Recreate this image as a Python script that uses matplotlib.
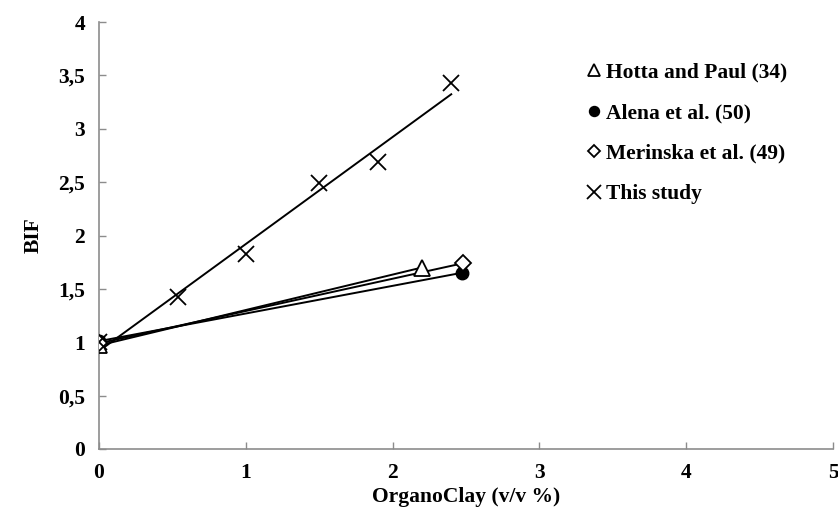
import numpy as np
import matplotlib
matplotlib.use("Agg")
import matplotlib.pyplot as plt
from matplotlib.ticker import FuncFormatter

plt.rcParams['font.family'] = ['Liberation Serif', 'DejaVu Serif']
plt.rcParams['font.weight'] = 'bold'

hotta_x = [0.0, 2.20]
hotta_y = [0.97, 1.70]
alena_x = [0.0, 2.47]
alena_y = [1.01, 1.65]
merinska_x = [0.0, 2.48]
merinska_y = [0.99, 1.74]
study_x = [0.0, 0.54, 1.0, 1.50, 1.90, 2.40]
study_y = [1.00, 1.42, 1.83, 2.49, 2.69, 3.43]

labels = ["Hotta and Paul (34)", "Alena et al. (50)", "Merinska et al. (49)", "This study"]

fig = plt.figure(figsize=(8.38, 5.07), dpi=100)
ax = fig.add_axes([0.118, 0.1144, 0.876, 0.8422])

series = [
    (hotta_x, hotta_y, dict(marker='^', markersize=11, markerfacecolor='white', markeredgecolor='black', markeredgewidth=1.3)),
    (alena_x, alena_y, dict(marker='o', markersize=9, markerfacecolor='black', markeredgecolor='black')),
    (merinska_x, merinska_y, dict(marker='D', markersize=8, markerfacecolor='white', markeredgecolor='black', markeredgewidth=1.3)),
    (study_x, study_y, dict(marker='x', markersize=12, markeredgecolor='black', markeredgewidth=1.3)),
]

handles = []
for (xs, ys, mk), lab in zip(series, labels):
    xs = np.array(xs); ys = np.array(ys)
    k, b = np.polyfit(xs, ys, 1)
    xl = np.array([xs.min(), xs.max()])
    ax.plot(xl, k * xl + b, color='black', lw=1.4, zorder=2)
    h, = ax.plot(xs, ys, linestyle='none', zorder=3, label=lab, **mk)
    handles.append(h)

ax.set_xlim(0, 5)
ax.set_ylim(0, 4)
ax.set_xticks(np.arange(0, 6, 1))
ax.set_yticks(np.arange(0, 4.01, 0.5))
fmt = FuncFormatter(lambda v, p: (f"{v:g}").replace('.', ','))
ax.xaxis.set_major_formatter(fmt)
ax.yaxis.set_major_formatter(fmt)
for s in ['top', 'right']:
    ax.spines[s].set_visible(False)
for s in ['left', 'bottom']:
    ax.spines[s].set_color('#8c8c8c')
    ax.spines[s].set_linewidth(1.2)
ax.tick_params(direction='in', length=5, width=1.0, color='#8c8c8c', labelsize=15.5, pad=10)
for t in ax.get_xticklabels() + ax.get_yticklabels():
    t.set_fontweight('bold')

ax.set_xlabel("OrganoClay (v/v %)", fontsize=15.5, fontweight='bold', labelpad=3)
ax.set_ylabel("BIF", fontsize=15.5, fontweight='bold', labelpad=10)

leg = ax.legend(handles=handles, loc='upper left', bbox_to_anchor=(0.655, 0.925),
                frameon=False, fontsize=15.5, handlelength=0.55, handletextpad=0.25,
                labelspacing=0.95, markerscale=0.8, borderaxespad=0)
for t in leg.get_texts():
    t.set_fontweight('bold')

fig.savefig("out.png", dpi=100)
